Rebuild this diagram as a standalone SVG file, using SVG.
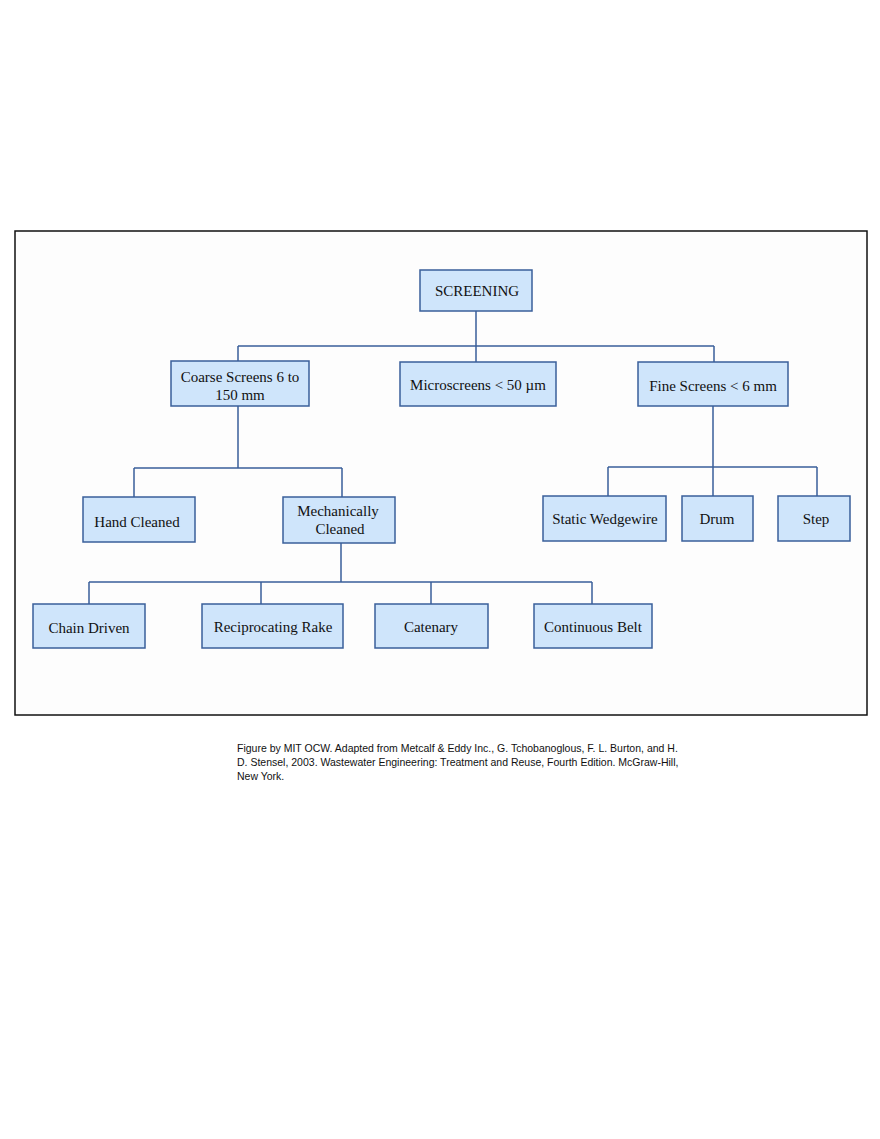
<svg xmlns="http://www.w3.org/2000/svg" width="880" height="1139" viewBox="0 0 880 1139">
<style>
.n rect{fill:#cfe5fb;stroke:#3a5f9a;stroke-width:1.5}
.n text{font-family:"Liberation Serif",serif;font-size:15px;fill:#111;text-anchor:middle}
.c path{fill:none;stroke:#3a5f9a;stroke-width:1.5}
.cap{font-family:"Liberation Sans",sans-serif;font-size:10.5px;fill:#111}
</style>
<rect width="880" height="1139" fill="#fff"/>
<rect x="15" y="231" width="852" height="484" fill="#fdfdfd" stroke="#111" stroke-width="1.5"/>
<g class="c">
<path d="M476 311V346M238 346H714M238 346V361M476 346V362M714 346V362"/>
<path d="M238 406V468M134 468H342M134 468V497M342 468V497"/>
<path d="M713 406V467M608 467H817M608 467V496M713 467V496M817 467V496"/>
<path d="M341 543V582M89 582H592M89 582V604M261 582V604M431 582V604M592 582V604"/>
</g>
<g id="screening" class="n"><rect x="420" y="270" width="112" height="41"/><text x="477" y="296">SCREENING</text></g>
<g id="coarse" class="n"><rect x="171" y="361" width="138" height="45"/><text x="240" y="382">Coarse Screens 6 to</text><text x="240" y="400">150 mm</text></g>
<g id="micro" class="n"><rect x="400" y="362" width="156" height="44"/><text x="478" y="390">Microscreens &lt; 50 µm</text></g>
<g id="fine" class="n"><rect x="638" y="362" width="150" height="44"/><text x="713" y="391">Fine Screens &lt; 6 mm</text></g>
<g id="hand" class="n"><rect x="83" y="497" width="112" height="45"/><text x="137" y="527">Hand Cleaned</text></g>
<g id="mech" class="n"><rect x="283" y="497" width="112" height="46"/><text x="338" y="516">Mechanically</text><text x="340" y="534">Cleaned</text></g>
<g id="static" class="n"><rect x="543" y="496" width="123" height="45"/><text x="605" y="524">Static Wedgewire</text></g>
<g id="drum" class="n"><rect x="682" y="496" width="71" height="45"/><text x="717" y="524">Drum</text></g>
<g id="step" class="n"><rect x="778" y="496" width="72" height="45"/><text x="816" y="524">Step</text></g>
<g id="chain" class="n"><rect x="33" y="604" width="112" height="44"/><text x="89" y="633">Chain Driven</text></g>
<g id="recip" class="n"><rect x="202" y="604" width="141" height="44"/><text x="273" y="632">Reciprocating Rake</text></g>
<g id="catenary" class="n"><rect x="375" y="604" width="113" height="44"/><text x="431" y="632">Catenary</text></g>
<g id="belt" class="n"><rect x="534" y="604" width="118" height="44"/><text x="593" y="632">Continuous Belt</text></g>
<text class="cap" x="237" y="752">Figure by MIT OCW.  Adapted from Metcalf &amp; Eddy Inc., G. Tchobanoglous, F. L. Burton, and H.</text>
<text class="cap" x="237" y="766">D. Stensel, 2003. Wastewater Engineering: Treatment and Reuse, Fourth Edition. McGraw-Hill,</text>
<text class="cap" x="237" y="780">New York.</text>
</svg>
